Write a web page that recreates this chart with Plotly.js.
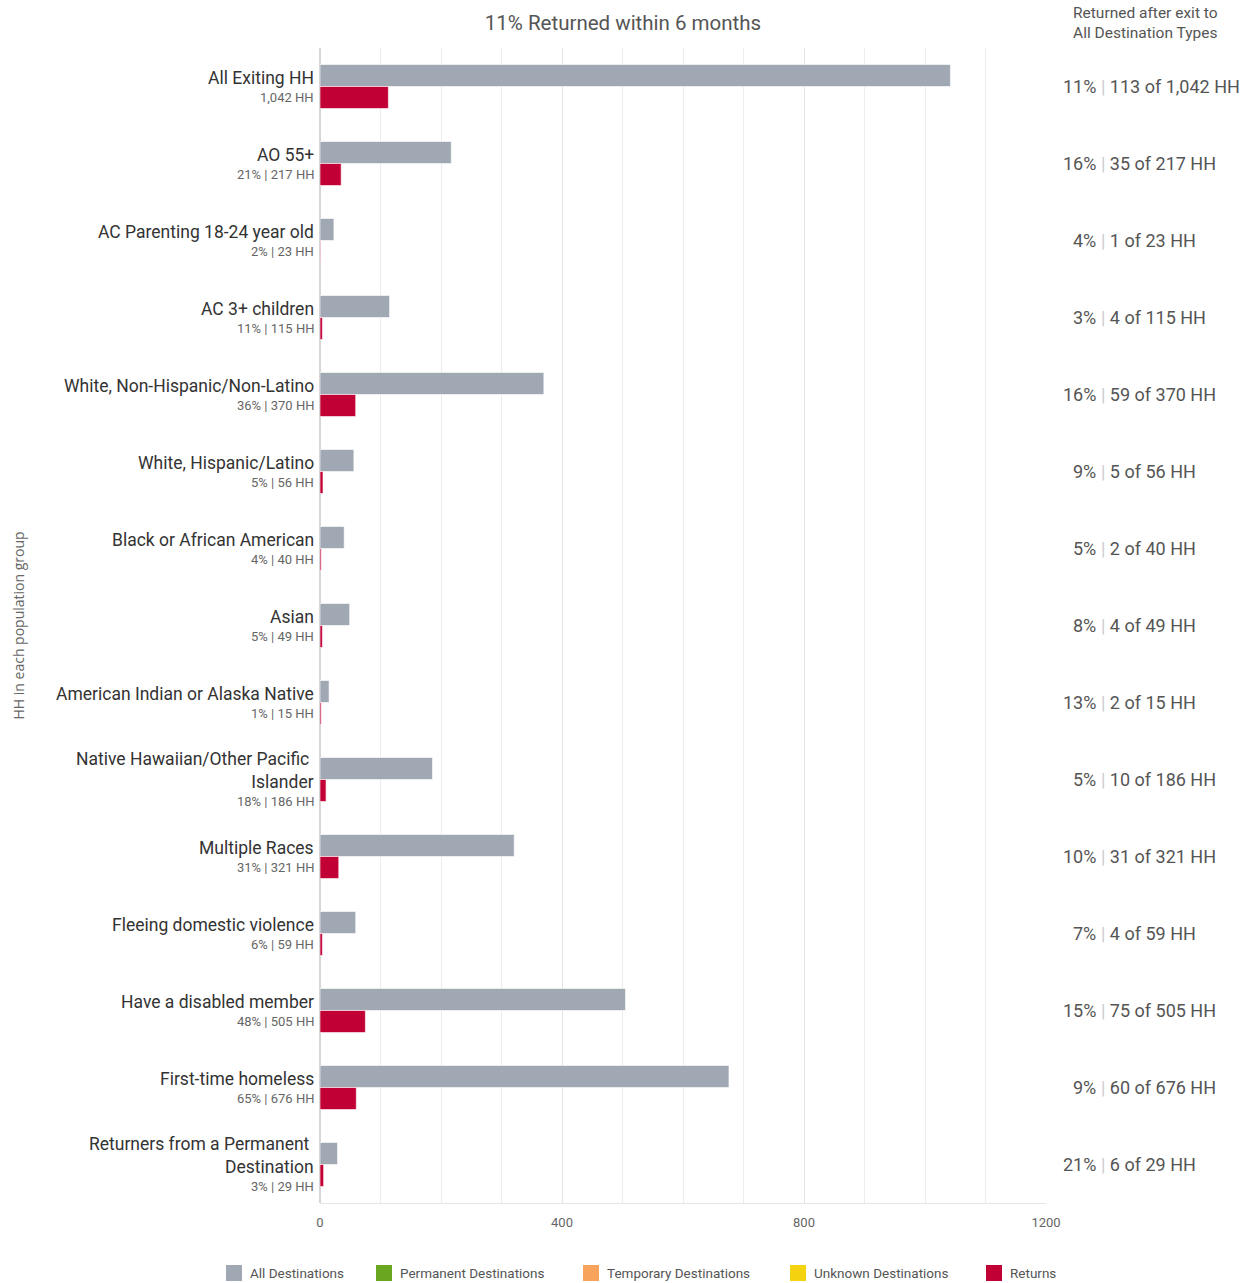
<!DOCTYPE html>
<html>
<head>
<meta charset="utf-8">
<script src="https://cdn.plot.ly/plotly-3.0.1.min.js"></script>
<style>html,body{margin:0;padding:0;background:#fff;}#chart{width:1251px;height:1283px;}</style>
</head>
<body>
<div id="chart"></div>
<script>
const categories = [
  "All Exiting HH",
  "AO 55+",
  "AC Parenting 18-24 year old",
  "AC 3+ children",
  "White, Non-Hispanic/Non-Latino",
  "White, Hispanic/Latino",
  "Black or African American",
  "Asian",
  "American Indian or Alaska Native",
  "Native Hawaiian/Other Pacific\u00a0<br>Islander",
  "Multiple Races",
  "Fleeing domestic violence",
  "Have a disabled member",
  "First-time homeless",
  "Returners from a Permanent\u00a0<br>Destination"
];
const totalHH   = [1042, 217, 23, 115, 370, 56, 40, 49, 15, 186, 321, 59, 505, 676, 29];
const shareOfAll = [null, 21, 2, 11, 36, 5, 4, 5, 1, 18, 31, 6, 48, 65, 3];
const returnsHH = [113, 35, 1, 4, 59, 5, 2, 4, 2, 10, 31, 4, 75, 60, 6];
const returnPct = [11, 16, 4, 3, 16, 9, 5, 8, 13, 5, 10, 7, 15, 9, 21];
const xTicks = [0, 400, 800, 1200];
const legendNames = ["All Destinations", "Permanent Destinations", "Temporary Destinations", "Unknown Destinations", "Returns"];
const legendColors = ["#a0a8b4", "#6aa620", "#f7a35c", "#f5d20f", "#c10036"];

const colGray = legendColors[0], colRed = legendColors[4];
const fmt = n => n.toLocaleString("en-US");
const ids = categories.map((c, i) => "c" + i);

const traces = [
  {type: "bar", orientation: "h", name: legendNames[0], x: totalHH, y: ids, offset: -0.286, width: 0.286, showlegend: false,
   marker: {color: colGray, line: {color: "rgba(255,255,255,0.6)", width: 1}}},
  {type: "bar", orientation: "h", name: legendNames[4], x: returnsHH, y: ids, offset: 0, width: 0.286, showlegend: false,
   marker: {color: colRed, line: {color: "rgba(255,255,255,0.6)", width: 1}}}
];

// plot area in pixels (for converting legend placement to paper coords)
const PL = 320, PW = 726, PB = 1203, PH = 1155;
const px = v => (v - PL) / PW, py = v => (PB - v) / PH;

const annotations = [];
const shapes = [];
categories.forEach((c, i) => {
  const multi = c.indexOf("<br>") >= 0;
  annotations.push({xref: "paper", yref: "y", x: 0, y: ids[i], xanchor: "right", yanchor: "middle", xshift: -4, yshift: 9,
    showarrow: false, align: "right", text: c, font: {family: "Roboto", size: 17.5, color: "#333"}});
  const sub = shareOfAll[i] === null ? fmt(totalHH[i]) + " HH" : shareOfAll[i] + "% | " + fmt(totalHH[i]) + " HH";
  annotations.push({xref: "paper", yref: "y", x: 0, y: ids[i], xanchor: "right", yanchor: "middle", xshift: -4, yshift: multi ? -21.5 : -11,
    showarrow: false, text: sub, font: {family: "Roboto", size: 13, color: "#666"}});
  annotations.push({xref: "paper", yref: "y", x: 1, y: ids[i], xanchor: "right", xshift: 52, showarrow: false,
    text: returnPct[i] + "%", font: {family: "Roboto", size: 18, color: "#555"}});
  annotations.push({xref: "paper", yref: "y", x: 1, y: ids[i], xanchor: "left", xshift: 53, showarrow: false,
    text: "<span style='fill:#ccc'>|</span> " + returnsHH[i] + " of " + fmt(totalHH[i]) + " HH",
    font: {family: "Roboto", size: 18, color: "#555"}});
});
annotations.push({xref: "paper", yref: "paper", x: px(1145), y: 1, yshift: 25, xanchor: "center", yanchor: "middle",
  showarrow: false, text: "Returned after exit to<br>All Destination Types", font: {family: "Roboto", size: 15.5, color: "#555"}});
annotations.push({xref: "paper", yref: "paper", x: px(18), y: 0.5, xanchor: "center", yanchor: "middle",
  textangle: -90, showarrow: false, text: "HH in each population group", font: {family: "Open Sans", size: 14, color: "#666"}});

// legend (drawn as keys + labels so it stays on one row)
const legendLeft = [226, 376, 583, 790, 986];
legendNames.forEach((n, k) => {
  const x0 = legendLeft[k];
  shapes.push({type: "rect", xref: "paper", yref: "paper", x0: px(x0), x1: px(x0 + 16), y0: py(1281), y1: py(1265),
    fillcolor: legendColors[k], line: {width: 0}});
  annotations.push({xref: "paper", yref: "paper", x: px(x0 + 22), y: py(1273), xanchor: "left", yanchor: "middle",
    showarrow: false, text: n, font: {family: "Roboto", size: 13.5, color: "#555"}});
});

const layout = {
  width: 1251, height: 1283,
  margin: {l: 320, r: 205, t: 48, b: 80},
  paper_bgcolor: "#fff", plot_bgcolor: "#fff",
  font: {family: "Roboto", color: "#333"},
  title: {text: "11% Returned within 6 months", x: 623 / 1251, xanchor: "center", y: 1 - 23 / 1283, yanchor: "middle",
    font: {family: "Roboto", size: 20.5, color: "#555"}},
  barmode: "overlay",
  xaxis: {range: [0, 1200], tickvals: xTicks, ticktext: xTicks.map(String), showgrid: true, gridcolor: "#e3e3e3",
    minor: {dtick: 100, showgrid: true, gridcolor: "#ececec", gridwidth: 1},
    zeroline: true, zerolinecolor: "#d6d6d6", zerolinewidth: 2, showline: true, linecolor: "#e6e6e6",
    tickfont: {family: "Roboto", size: 13, color: "#666"}, ticks: "", ticklabelstandoff: 7, fixedrange: true},
  yaxis: {type: "category", range: [ids.length - 0.5, -0.5], tickvals: ids, showticklabels: false, ticks: "",
    showgrid: false, zeroline: false},
  showlegend: false,
  shapes: shapes,
  annotations: annotations
};

Plotly.newPlot("chart", traces, layout, {displayModeBar: false, staticPlot: true});
</script>
</body>
</html>
